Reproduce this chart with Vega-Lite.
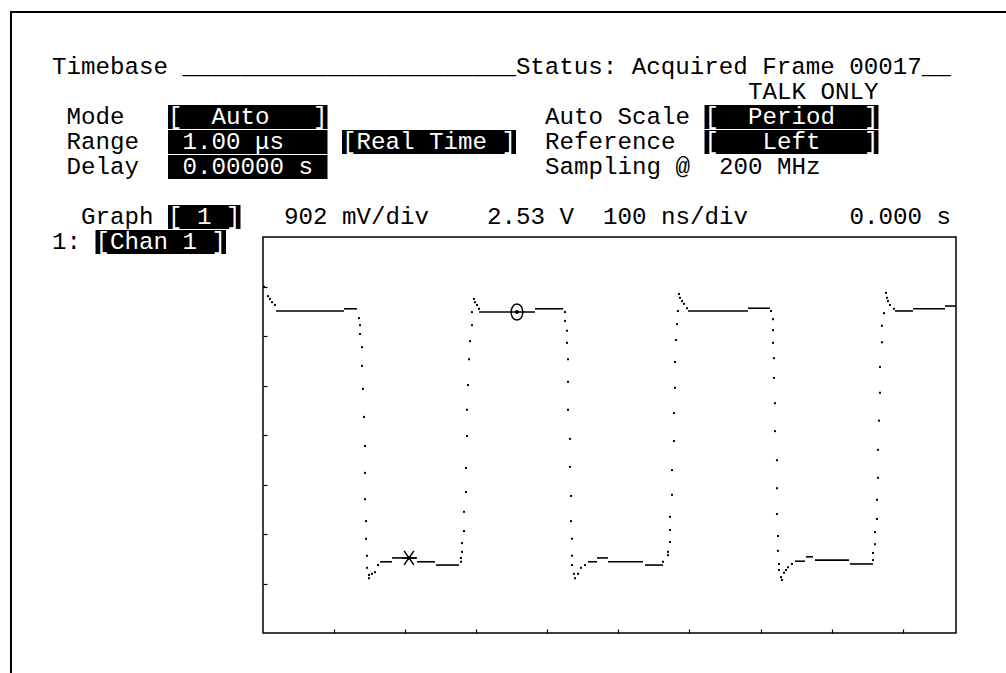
{
  "$schema": "https://vega.github.io/schema/vega-lite/v6.json",
  "width": 693,
  "height": 396,
  "autosize": {"type": "none"},
  "padding": {"left": 263, "top": 237, "right": 50, "bottom": 40},
  "background": "white",
  "config": {"view": {"stroke": "#000", "strokeWidth": 1.5}},
  "datasets": {
    "flat": [
      {"seg": "A", "t": 18.3, "v": 4.79}, {"seg": "A", "t": 114, "v": 4.79},
      {"seg": "A2", "t": 114, "v": 4.83}, {"seg": "A2", "t": 132.2, "v": 4.83},
      {"seg": "B1", "t": 164.6, "v": 0.22}, {"seg": "B1", "t": 181.5, "v": 0.22},
      {"seg": "B2", "t": 181.5, "v": 0.29}, {"seg": "B2", "t": 216.7, "v": 0.29},
      {"seg": "B3", "t": 216.7, "v": 0.22}, {"seg": "B3", "t": 242.0, "v": 0.22},
      {"seg": "C", "t": 243.4, "v": 0.16}, {"seg": "C", "t": 275.7, "v": 0.16},
      {"seg": "D1", "t": 303.9, "v": 4.77}, {"seg": "D1", "t": 382.7, "v": 4.77},
      {"seg": "D2", "t": 382.7, "v": 4.83}, {"seg": "D2", "t": 422.1, "v": 4.83},
      {"seg": "E1", "t": 457.2, "v": 0.22}, {"seg": "E1", "t": 469.9, "v": 0.22},
      {"seg": "E2", "t": 469.9, "v": 0.29}, {"seg": "E2", "t": 485.4, "v": 0.29},
      {"seg": "E3", "t": 485.4, "v": 0.22}, {"seg": "E3", "t": 534.6, "v": 0.22},
      {"seg": "E4", "t": 537.4, "v": 0.16}, {"seg": "E4", "t": 562.7, "v": 0.16},
      {"seg": "F1", "t": 597.9, "v": 4.79}, {"seg": "F1", "t": 682.3, "v": 4.79},
      {"seg": "F2", "t": 682.3, "v": 4.84}, {"seg": "F2", "t": 713.3, "v": 4.84},
      {"seg": "G1", "t": 748.5, "v": 0.23}, {"seg": "G1", "t": 762.5, "v": 0.23},
      {"seg": "G2", "t": 763.9, "v": 0.31}, {"seg": "G2", "t": 773.8, "v": 0.31},
      {"seg": "G3", "t": 776.6, "v": 0.25}, {"seg": "G3", "t": 824.4, "v": 0.25},
      {"seg": "G4", "t": 825.8, "v": 0.18}, {"seg": "G4", "t": 858.2, "v": 0.18},
      {"seg": "H1", "t": 889.1, "v": 4.79}, {"seg": "H1", "t": 914.5, "v": 4.79},
      {"seg": "H2", "t": 914.5, "v": 4.83}, {"seg": "H2", "t": 959.5, "v": 4.83},
      {"seg": "H3", "t": 959.5, "v": 4.88}, {"seg": "H3", "t": 975, "v": 4.88}
    ],
    "dots": [
      {"t": 1.4, "v": 5.23}, {"t": 7.0, "v": 5.06}, {"t": 9.8, "v": 5.01}, {"t": 12.7, "v": 4.95}, {"t": 16.9, "v": 4.90},
      {"t": 135.1, "v": 4.66}, {"t": 136.5, "v": 4.53}, {"t": 136.5, "v": 4.37}, {"t": 139.3, "v": 4.13}, {"t": 139.3, "v": 3.79},
      {"t": 140.7, "v": 3.37}, {"t": 142.1, "v": 2.86}, {"t": 143.5, "v": 2.33}, {"t": 143.5, "v": 1.84}, {"t": 143.5, "v": 1.36},
      {"t": 144.9, "v": 0.96}, {"t": 144.9, "v": 0.64}, {"t": 146.3, "v": 0.33}, {"t": 146.3, "v": 0.11}, {"t": 149.1, "v": -0.02},
      {"t": 149.1, "v": -0.08}, {"t": 153.3, "v": 0.00}, {"t": 157.6, "v": 0.03}, {"t": 161.8, "v": 0.16},
      {"t": 278.6, "v": 0.22}, {"t": 278.6, "v": 0.29}, {"t": 280.0, "v": 0.40}, {"t": 280.0, "v": 0.56}, {"t": 282.8, "v": 0.78},
      {"t": 282.8, "v": 1.13}, {"t": 285.6, "v": 1.49}, {"t": 285.6, "v": 1.93}, {"t": 287.0, "v": 2.51}, {"t": 287.0, "v": 2.99},
      {"t": 288.4, "v": 3.44}, {"t": 289.8, "v": 3.91}, {"t": 291.2, "v": 4.24}, {"t": 294.0, "v": 4.53}, {"t": 294.0, "v": 4.77},
      {"t": 296.8, "v": 5.01}, {"t": 298.3, "v": 4.95}, {"t": 301.1, "v": 4.90}, {"t": 303.9, "v": 4.83},
      {"t": 424.9, "v": 4.77}, {"t": 424.9, "v": 4.61}, {"t": 427.7, "v": 4.43}, {"t": 427.7, "v": 4.21}, {"t": 429.1, "v": 3.91},
      {"t": 429.1, "v": 3.50}, {"t": 429.1, "v": 2.99}, {"t": 432.0, "v": 2.46}, {"t": 432.0, "v": 1.95}, {"t": 433.4, "v": 1.42},
      {"t": 433.4, "v": 0.96}, {"t": 434.8, "v": 0.64}, {"t": 434.8, "v": 0.33}, {"t": 434.8, "v": 0.16}, {"t": 437.5, "v": 0.00},
      {"t": 439.0, "v": -0.08}, {"t": 443.2, "v": 0.00}, {"t": 447.4, "v": 0.11}, {"t": 453.0, "v": 0.16},
      {"t": 562.7, "v": 0.22}, {"t": 569.8, "v": 0.34}, {"t": 569.8, "v": 0.40}, {"t": 572.6, "v": 0.58}, {"t": 572.6, "v": 0.80},
      {"t": 572.6, "v": 1.04}, {"t": 575.4, "v": 1.44}, {"t": 575.4, "v": 1.89}, {"t": 578.2, "v": 2.42}, {"t": 578.2, "v": 2.93},
      {"t": 579.6, "v": 3.39}, {"t": 579.6, "v": 3.86}, {"t": 581.0, "v": 4.26}, {"t": 582.4, "v": 4.55}, {"t": 583.8, "v": 4.79},
      {"t": 585.3, "v": 5.10}, {"t": 586.7, "v": 5.03}, {"t": 589.5, "v": 4.97}, {"t": 592.3, "v": 4.92}, {"t": 596.5, "v": 4.84},
      {"t": 714.7, "v": 4.79}, {"t": 717.5, "v": 4.64}, {"t": 717.5, "v": 4.44}, {"t": 717.5, "v": 4.21}, {"t": 718.9, "v": 3.93},
      {"t": 718.9, "v": 3.57}, {"t": 720.3, "v": 3.11}, {"t": 720.3, "v": 2.60}, {"t": 723.1, "v": 2.07}, {"t": 723.1, "v": 1.56},
      {"t": 723.1, "v": 1.09}, {"t": 724.5, "v": 0.69}, {"t": 724.5, "v": 0.42}, {"t": 726.0, "v": 0.18}, {"t": 726.0, "v": 0.07},
      {"t": 728.8, "v": -0.06}, {"t": 730.2, "v": -0.11}, {"t": 733.0, "v": 0.02}, {"t": 735.8, "v": 0.07}, {"t": 738.6, "v": 0.12},
      {"t": 744.2, "v": 0.18},
      {"t": 858.2, "v": 0.25}, {"t": 858.2, "v": 0.38}, {"t": 861.0, "v": 0.54}, {"t": 861.0, "v": 0.76}, {"t": 863.8, "v": 1.00},
      {"t": 863.8, "v": 1.35}, {"t": 865.2, "v": 1.75}, {"t": 865.2, "v": 2.26}, {"t": 866.6, "v": 2.79}, {"t": 868.0, "v": 3.30},
      {"t": 868.0, "v": 3.77}, {"t": 870.8, "v": 4.22}, {"t": 870.8, "v": 4.52}, {"t": 873.7, "v": 4.75}, {"t": 876.5, "v": 5.12},
      {"t": 877.9, "v": 5.03}, {"t": 879.3, "v": 4.97}, {"t": 882.1, "v": 4.90}, {"t": 887.7, "v": 4.83}
    ],
    "markers": [
      {"marker": "circle", "t": 357.3, "v": 4.77},
      {"marker": "star", "t": 205.4, "v": 0.29}
    ],
    "labels": [
      {"r": 0, "c": 0, "text": "Timebase _______________________Status: Acquired Frame 00017__"},
      {"r": 1, "c": 48, "text": "TALK ONLY"},
      {"r": 2, "c": 1, "text": "Mode"},
      {"r": 2, "c": 34, "text": "Auto Scale"},
      {"r": 3, "c": 1, "text": "Range"},
      {"r": 3, "c": 34, "text": "Reference"},
      {"r": 4, "c": 1, "text": "Delay"},
      {"r": 4, "c": 34, "text": "Sampling @\u00a0\u00a0200 MHz"},
      {"r": 6, "c": 2, "text": "Graph"},
      {"r": 6, "c": 16, "text": "902 mV/div"},
      {"r": 6, "c": 30, "text": "2.53 V"},
      {"r": 6, "c": 38, "text": "100 ns/div"},
      {"r": 6, "c": 55, "text": "0.000 s"},
      {"r": 7, "c": 0, "text": "1:"}
    ],
    "fields": [
      {"r": 2, "c": 8, "text": "[\u00a0\u00a0Auto\u00a0\u00a0\u00a0]"},
      {"r": 2, "c": 45, "text": "[\u00a0\u00a0Period\u00a0\u00a0]"},
      {"r": 3, "c": 8, "text": "\u00a01.00\u00a0μs\u00a0\u00a0\u00a0"},
      {"r": 3, "c": 20, "text": "[Real Time ]"},
      {"r": 3, "c": 45, "text": "[\u00a0\u00a0\u00a0Left\u00a0\u00a0\u00a0]"},
      {"r": 4, "c": 8, "text": "\u00a00.00000\u00a0s\u00a0"},
      {"r": 6, "c": 8, "text": "[\u00a01\u00a0]"},
      {"r": 7, "c": 3, "text": "[Chan 1 ]"}
    ]
  },
  "layer": [
    {
      "layer": [
        {
          "data": {"name": "flat"},
          "mark": {"type": "line", "color": "#000", "strokeWidth": 1.6, "clip": true},
          "encoding": {
            "x": {"field": "t", "type": "quantitative", "scale": {"domain": [0, 975], "nice": false, "zero": false},
                  "axis": {"orient": "bottom", "values": [100, 200, 300, 400, 500, 600, 700, 800, 900], "domain": false, "grid": false, "labels": false, "title": null, "ticks": true, "tickSize": 4, "tickColor": "#000", "tickWidth": 1.2, "offset": -4}},
            "y": {"field": "v", "type": "quantitative", "scale": {"domain": [-1.078, 6.138], "nice": false, "zero": false},
                  "axis": {"orient": "left", "values": [-0.176, 0.726, 1.628, 2.53, 3.432, 4.334, 5.236], "domain": false, "grid": false, "labels": false, "title": null, "ticks": true, "tickSize": 4, "tickColor": "#000", "tickWidth": 1.2, "offset": -4}},
            "detail": {"field": "seg"}
          }
        },
        {
          "data": {"name": "dots"},
          "mark": {"type": "point", "shape": "square", "filled": true, "size": 4, "color": "#000", "opacity": 1},
          "encoding": {
            "x": {"field": "t", "type": "quantitative"},
            "y": {"field": "v", "type": "quantitative"}
          }
        },
        {
          "data": {"name": "markers"},
          "transform": [{"filter": "datum.marker == 'circle'"}],
          "mark": {"type": "point", "shape": "M0,-1C0.97,-1 0.97,1 0,1C-0.97,1 -0.97,-1 0,-1Z", "filled": false, "size": 256, "stroke": "#000", "strokeWidth": 1.5, "opacity": 1},
          "encoding": {
            "x": {"field": "t", "type": "quantitative"},
            "y": {"field": "v", "type": "quantitative"}
          }
        },
        {
          "data": {"name": "markers"},
          "transform": [{"filter": "datum.marker == 'star'"}],
          "mark": {"type": "point", "shape": "M-0.7,-1L0.7,1M0.7,-1L-0.7,1M-1,0L1,0", "filled": false, "size": 196, "stroke": "#000", "strokeWidth": 1.5, "opacity": 1},
          "encoding": {
            "x": {"field": "t", "type": "quantitative"},
            "y": {"field": "v", "type": "quantitative"}
          }
        },
        {
          "data": {"name": "markers"},
          "mark": {"type": "point", "shape": "circle", "filled": true, "size": 16, "color": "#000", "opacity": 1},
          "encoding": {
            "x": {"field": "t", "type": "quantitative"},
            "y": {"field": "v", "type": "quantitative"}
          }
        }
      ]
    },
    {
      "layer": [
        {
          "data": {"values": [{}]},
          "mark": {"type": "rect", "filled": false, "stroke": "#000", "strokeWidth": 2},
          "encoding": {
            "x": {"datum": -2.83, "type": "quantitative", "scale": {"domain": [14.5517, 62.345], "nice": false, "zero": false}, "axis": null},
            "x2": {"datum": 90},
            "y": {"datum": -2.2, "type": "quantitative", "scale": {"domain": [6.8, 22.64], "reverse": true, "nice": false, "zero": false}, "axis": null},
            "y2": {"datum": 40}
          }
        },
        {
          "data": {"name": "fields"},
          "transform": [
            {"calculate": "datum.c + length(datum.text)", "as": "c2"},
            {"calculate": "datum.r - 0.48", "as": "r1"},
            {"calculate": "datum.r + 0.48", "as": "r2"}
          ],
          "mark": {"type": "rect", "color": "#000"},
          "encoding": {
            "x": {"field": "c", "type": "quantitative", "scale": {"domain": [14.5517, 62.345], "nice": false, "zero": false}, "axis": null},
            "x2": {"field": "c2"},
            "y": {"field": "r1", "type": "quantitative", "scale": {"domain": [6.8, 22.64], "reverse": true, "nice": false, "zero": false}, "axis": null},
            "y2": {"field": "r2"}
          }
        },
        {
          "data": {"name": "fields"},
          "transform": [
            {"calculate": "trim(datum.text)", "as": "label"},
            {"calculate": "datum.c + indexof(datum.text, trim(datum.text))", "as": "ct"}
          ],
          "mark": {"type": "text", "align": "left", "baseline": "middle", "font": "Liberation Mono", "fontSize": 24.16, "color": "#fff"},
          "encoding": {
            "x": {"field": "ct", "type": "quantitative", "axis": null},
            "y": {"field": "r", "type": "quantitative", "axis": null},
            "text": {"field": "label"}
          }
        },
        {
          "data": {"name": "labels"},
          "mark": {"type": "text", "align": "left", "baseline": "middle", "font": "Liberation Mono", "fontSize": 24.16, "color": "#000"},
          "encoding": {
            "x": {"field": "c", "type": "quantitative", "axis": null},
            "y": {"field": "r", "type": "quantitative", "axis": null},
            "text": {"field": "text"}
          }
        }
      ]
    }
  ],
  "resolve": {"scale": {"x": "independent", "y": "independent"}}
}
